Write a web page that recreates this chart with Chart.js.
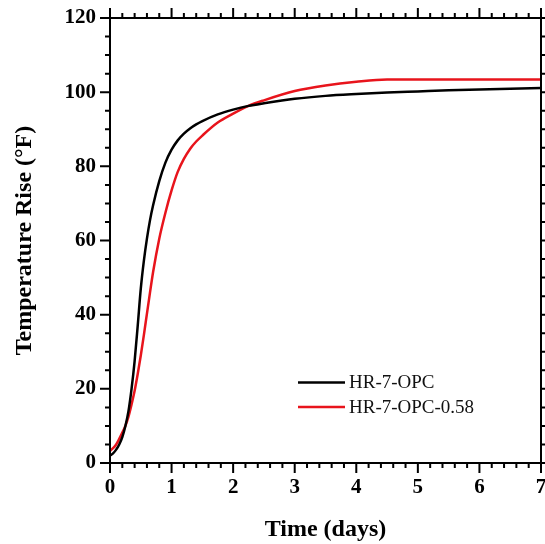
<!DOCTYPE html>
<html>
<head>
<meta charset="utf-8">
<script src="https://cdn.jsdelivr.net/npm/chart.js@4.4.1/dist/chart.umd.min.js"></script>
<style>
html,body{margin:0;padding:0;background:#fff;}
#wrap{width:545px;height:544px;position:relative;}
</style>
</head>
<body>
<div id="wrap"><canvas id="c" width="545" height="544"></canvas></div>
<script>
const times = [0,0.05,0.1,0.15,0.2,0.25,0.3,0.35,0.4,0.45,0.5,0.55,0.6,0.65,0.7,0.8,0.9,1.0,1.1,1.2,1.3,1.4,1.5,1.75,2.0,2.25,2.5,3.0,3.5,4.0,4.5,5.0,5.5,6.0,6.5,7.0];
const opcRise = [2.0,2.6,3.6,5.0,7.0,10,14,20,27.5,37,47,54.5,60.5,65.5,69.5,76,81,84.5,87,88.8,90.2,91.3,92.2,94,95.3,96.3,97,98.2,99,99.5,99.9,100.2,100.5,100.7,100.9,101.1];
const opc058Rise = [3.3,4.0,5.0,6.5,8.2,10,12.5,15.8,19.5,24,29,34.5,40.3,46,51.5,60.5,67.5,73.5,78.5,82,84.7,86.7,88.3,91.8,94.2,96.3,97.8,100.3,101.8,102.8,103.4,103.4,103.4,103.4,103.4,103.4];
const seriesLabels = ['HR-7-OPC','HR-7-OPC-0.58'];
const seriesColors = ['#000000','#e8141c'];
const xTitle = 'Time (days)';
const yTitle = 'Temperature Rise (\u00B0F)';

const FONT = "'Liberation Serif','Times New Roman',serif";

function pts(ys){ return times.map((t,i)=>({x:t,y:ys[i]})); }

const frameTicks = {
  id:'frameTicks',
  afterDraw(chart){
    const {ctx, chartArea:a, scales:{x,y}} = chart;
    ctx.save();
    ctx.strokeStyle='#000';
    ctx.lineWidth=2;
    ctx.strokeRect(a.left,a.top,a.right-a.left,a.bottom-a.top);
    ctx.beginPath();
    for(let i=0;i<=35;i++){
      const v=i*0.2; const px=x.getPixelForValue(v);
      const len=(i%5===0)?10:5;
      ctx.moveTo(px,a.bottom); ctx.lineTo(px,a.bottom+len);
      ctx.moveTo(px,a.top); ctx.lineTo(px,a.top-len);
    }
    for(let i=0;i<=24;i++){
      const v=i*5; const py=y.getPixelForValue(v);
      const len=(i%4===0)?10:5;
      ctx.moveTo(a.left,py); ctx.lineTo(a.left-len,py);
      ctx.moveTo(a.right,py); ctx.lineTo(a.right+len,py);
    }
    ctx.stroke();
    ctx.restore();
  }
};

const innerLegend = {
  id:'innerLegend',
  afterDatasetsDraw(chart){
    const {ctx} = chart;
    const x0=298, x1=345, tx=349, ys=[382.5,407];
    ctx.save();
    ctx.font = "19px "+FONT;
    ctx.textBaseline='middle';
    ctx.textAlign='left';
    chart.data.datasets.forEach((ds,i)=>{
      ctx.strokeStyle=ds.borderColor; ctx.lineWidth=2.5;
      ctx.beginPath(); ctx.moveTo(x0,ys[i]); ctx.lineTo(x1,ys[i]); ctx.stroke();
      ctx.fillStyle='#111';
      ctx.fillText(ds.label,tx,ys[i]+1);
    });
    ctx.restore();
  }
};

new Chart(document.getElementById('c'),{
  type:'line',
  data:{datasets:[
    {label:seriesLabels[0],data:pts(opcRise),borderColor:seriesColors[0],borderWidth:2.5,pointRadius:0,cubicInterpolationMode:'monotone',fill:false},
    {label:seriesLabels[1],data:pts(opc058Rise),borderColor:seriesColors[1],borderWidth:2.5,pointRadius:0,cubicInterpolationMode:'monotone',fill:false}
  ]},
  options:{
    responsive:false,
    animation:false,
    layout:{padding:{left:0,right:4,top:18,bottom:0}},
    plugins:{legend:{display:false},tooltip:{enabled:false}},
    scales:{
      x:{type:'linear',min:0,max:7,
        ticks:{stepSize:1,color:'#000',font:{family:FONT,size:21,weight:'bold'},padding:2,maxRotation:0},
        grid:{drawOnChartArea:false,drawTicks:true,tickLength:10,color:'rgba(0,0,0,0)'},
        border:{display:false},
        title:{display:true,text:xTitle,color:'#000',font:{family:FONT,size:24,weight:'bold'},padding:{top:0,bottom:0}},
        afterFit(s){s.height=81;s.paddingLeft=0;s.paddingRight=0;}
      },
      y:{type:'linear',min:0,max:120,
        ticks:{stepSize:20,color:'#000',font:{family:FONT,size:21,weight:'bold'},padding:4},
        grid:{drawOnChartArea:false,drawTicks:true,tickLength:10,color:'rgba(0,0,0,0)'},
        border:{display:false},
        title:{display:true,text:yTitle,color:'#000',font:{family:FONT,size:24,weight:'bold'},padding:{top:10,bottom:0}},
        afterFit(s){s.width=110;s.paddingTop=0;s.paddingBottom=0;}
      }
    }
  },
  plugins:[frameTicks,innerLegend]
});
</script>
</body>
</html>
